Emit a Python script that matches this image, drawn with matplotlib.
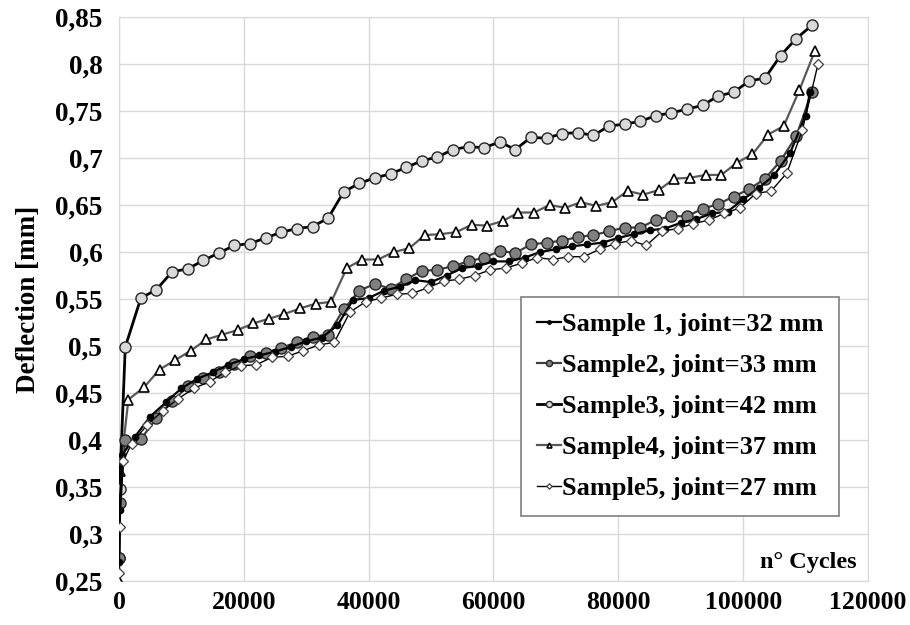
import matplotlib.pyplot as plt

# cycles for each sample
cycles_1 = [0, 100, 500, 2500, 5000, 7500, 10000, 12500, 15000, 17500, 20000, 22500,
            25000, 27500, 30000, 32500, 35000, 37500, 40000, 42500, 45000, 47500, 50000,
            52500, 55000, 57500, 60000, 62500, 65000, 67500, 70000, 72500, 75000, 77500,
            80000, 82500, 85000, 87500, 90000, 92500, 95000, 97500, 100000, 102500,
            105000, 107500, 110000, 110700]
defl_1 = [0.270, 0.326, 0.384, 0.403, 0.425, 0.440, 0.455, 0.465, 0.472, 0.480, 0.486, 0.490,
          0.494, 0.499, 0.505, 0.509, 0.522, 0.549, 0.551, 0.559, 0.563, 0.570, 0.568,
          0.575, 0.583, 0.585, 0.590, 0.590, 0.594, 0.600, 0.603, 0.606, 0.608, 0.610,
          0.615, 0.619, 0.623, 0.625, 0.631, 0.635, 0.641, 0.643, 0.656, 0.668,
          0.682, 0.705, 0.745, 0.770]

cycles_2 = [0, 100, 1000, 3500, 6000, 8500, 11000, 13500, 16000, 18500, 21000, 23500,
            26000, 28500, 31000, 33500, 36000, 38500, 41000, 43500, 46000, 48500, 51000,
            53500, 56000, 58500, 61000, 63500, 66000, 68500, 71000, 73500, 76000, 78500,
            81000, 83500, 86000, 88500, 91000, 93500, 96000, 98500, 101000, 103500,
            106000, 108500, 111000]
defl_2 = [0.275, 0.333, 0.400, 0.401, 0.423, 0.441, 0.457, 0.466, 0.472, 0.481, 0.489, 0.493,
          0.498, 0.504, 0.510, 0.512, 0.539, 0.559, 0.566, 0.561, 0.571, 0.580, 0.581,
          0.585, 0.590, 0.594, 0.601, 0.599, 0.608, 0.610, 0.612, 0.616, 0.618, 0.622,
          0.626, 0.626, 0.634, 0.638, 0.638, 0.646, 0.651, 0.659, 0.667, 0.678,
          0.697, 0.723, 0.770]

cycles_3 = cycles_2
defl_3 = [0.275, 0.348, 0.499, 0.551, 0.560, 0.579, 0.582, 0.591, 0.599, 0.607, 0.609, 0.615,
          0.621, 0.625, 0.627, 0.636, 0.664, 0.673, 0.679, 0.683, 0.690, 0.697, 0.701,
          0.709, 0.712, 0.711, 0.717, 0.709, 0.722, 0.721, 0.726, 0.727, 0.724, 0.734,
          0.736, 0.739, 0.745, 0.748, 0.752, 0.756, 0.766, 0.770, 0.782, 0.785,
          0.809, 0.827, 0.841]

cycles_4 = [0, 200, 1500, 4000, 6500, 9000, 11500, 14000, 16500, 19000, 21500, 24000,
            26500, 29000, 31500, 34000, 36500, 39000, 41500, 44000, 46500, 49000, 51500,
            54000, 56500, 59000, 61500, 64000, 66500, 69000, 71500, 74000, 76500, 79000,
            81500, 84000, 86500, 89000, 91500, 94000, 96500, 99000, 101500, 104000,
            106500, 109000, 111500]
defl_4 = [0.250, 0.367, 0.443, 0.456, 0.475, 0.485, 0.495, 0.507, 0.512, 0.517, 0.524, 0.529,
          0.534, 0.540, 0.545, 0.547, 0.583, 0.592, 0.592, 0.600, 0.604, 0.618, 0.619,
          0.621, 0.629, 0.628, 0.633, 0.642, 0.642, 0.650, 0.647, 0.653, 0.649, 0.653,
          0.665, 0.661, 0.666, 0.678, 0.679, 0.682, 0.682, 0.695, 0.704, 0.725,
          0.734, 0.772, 0.814]

cycles_5 = [0, 100, 700, 2000, 4500, 7000, 9500, 12000, 14500, 17000, 19500, 22000,
            24500, 27000, 29500, 32000, 34500, 37000, 39500, 42000, 44500, 47000, 49500,
            52000, 54500, 57000, 59500, 62000, 64500, 67000, 69500, 72000, 74500, 77000,
            79500, 82000, 84500, 87000, 89500, 92000, 94500, 97000, 99500, 102000,
            104500, 107000, 109500, 112000]
defl_5 = [0.258, 0.307, 0.378, 0.396, 0.416, 0.431, 0.444, 0.455, 0.462, 0.472, 0.479, 0.480,
          0.488, 0.489, 0.495, 0.501, 0.504, 0.536, 0.547, 0.551, 0.555, 0.556, 0.562,
          0.569, 0.571, 0.575, 0.581, 0.583, 0.588, 0.594, 0.592, 0.595, 0.595, 0.603,
          0.609, 0.612, 0.607, 0.622, 0.625, 0.630, 0.634, 0.641, 0.647, 0.662,
          0.665, 0.684, 0.730, 0.800]

labels = ['Sample 1, joint=32 mm', 'Sample2, joint=33 mm', 'Sample3, joint=42 mm',
          'Sample4, joint=37 mm', 'Sample5, joint=27 mm']

y_ticks = [0.25, 0.3, 0.35, 0.4, 0.45, 0.5, 0.55, 0.6, 0.65, 0.7, 0.75, 0.8, 0.85]
y_tick_labels = ['0,25', '0,3', '0,35', '0,4', '0,45', '0,5', '0,55', '0,6', '0,65',
                 '0,7', '0,75', '0,8', '0,85']
x_ticks = [0, 20000, 40000, 60000, 80000, 100000, 120000]

plt.rcParams['font.family'] = ['Liberation Serif', 'DejaVu Serif']
plt.rcParams['font.weight'] = 'bold'

fig = plt.figure(figsize=(9.1, 6.25), dpi=100)
ax = fig.add_axes([0.1308, 0.0704, 0.823, 0.9024])

ax.plot(cycles_1, defl_1, '-', color='black', lw=1.6, marker='o', ms=4.5,
        mfc='black', mec='black', label=labels[0], zorder=6)
ax.plot(cycles_2, defl_2, '-', color='#404040', lw=1.6, marker='o', ms=8,
        mfc='#808080', mec='#262626', mew=1.0, label=labels[1], zorder=5)
ax.plot(cycles_3, defl_3, '-', color='black', lw=2.0, marker='o', ms=8,
        mfc='#d9d9d9', mec='#262626', mew=1.0, label=labels[2], zorder=4)
ax.plot(cycles_4, defl_4, '-', color='#595959', lw=1.6, marker='^', ms=6.5,
        mfc='white', mec='black', mew=1.2, label=labels[3], zorder=3)
ax.plot(cycles_5, defl_5, '-', color='black', lw=1.0, marker='D', ms=5,
        mfc='white', mec='#404040', mew=0.9, label=labels[4], zorder=7)

ax.set_xlim(0, 120000)
ax.set_ylim(0.25, 0.85)
ax.set_xticks(x_ticks)
ax.set_xticklabels([str(t) for t in x_ticks])
ax.set_yticks(y_ticks)
ax.set_yticklabels(y_tick_labels)
ax.tick_params(axis='x', length=0, labelsize=18.5, pad=7)
ax.tick_params(axis='y', length=0, labelsize=19.5, pad=12)
for lab in ax.get_xticklabels() + ax.get_yticklabels():
    lab.set_fontweight('bold')

ax.grid(True, color='#d9d9d9', lw=1.0)
ax.set_axisbelow(True)
for s in ax.spines.values():
    s.set_color('#d9d9d9')

ax.set_ylabel('Deflection [mm]', fontsize=19.5, fontweight='bold', labelpad=10)
ax.text(0.985, 0.015, 'n° Cycles', transform=ax.transAxes, ha='right', va='bottom',
        fontsize=17.5, fontweight='bold')

leg = ax.legend(loc='upper left', bbox_to_anchor=(0.537, 0.5035), fontsize=19,
                handlelength=0.9, handletextpad=0.05, markerscale=0.55,
                labelspacing=0.66, borderpad=0.6, borderaxespad=0, fancybox=False,
                framealpha=1, edgecolor='#7f7f7f', shadow=False)
leg.get_frame().set_linewidth(1.2)
for t in leg.get_texts():
    t.set_fontweight('bold')
leg.set_zorder(10)

fig.savefig('out.png', dpi=100)
